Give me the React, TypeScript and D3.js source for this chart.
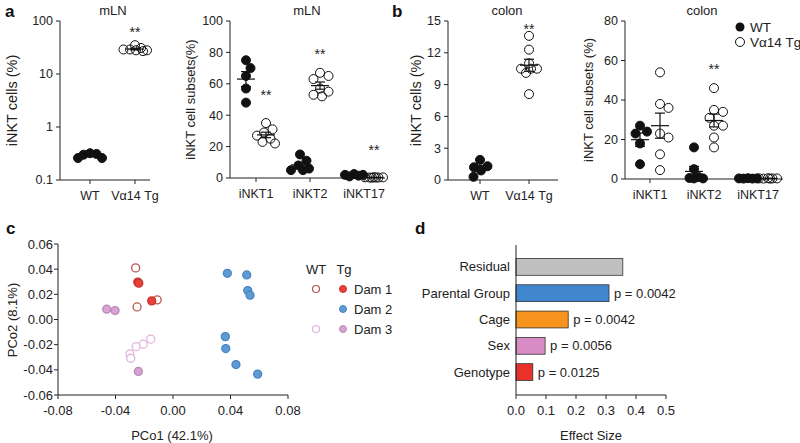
import React from 'react';
import * as d3 from 'd3';

const FONT = '"Liberation Sans", Arial, Helvetica, sans-serif';

// ---------- Panel a / b data ----------
const totalCats = ['WT', 'Vα14 Tg'];
const subsetCats = ['iNKT1', 'iNKT2', 'iNKT17'];

const aTotalWT = [0.26, 0.31, 0.32, 0.3, 0.26];
const aTotalTg = [35, 31, 29, 28, 28, 27, 29];
const aSubWT = [
  [75, 70, 65, 57, 48],
  [15, 11, 8, 6, 5, 5],
  [2.5, 2, 2, 1.5, 1],
];
const aSubTg = [
  [35, 31, 29, 27, 25, 23, 22],
  [67, 65, 63, 57, 55, 53, 52],
  [0.5, 0.4, 0.3, 0.3, 0.2, 0.3, 0.4],
];
const bTotalWT = [1.9, 1.3, 1.2, 0.9, 0.3];
const bTotalTg = [13.6, 12.3, 11.0, 10.5, 10.5, 10.5, 10.1, 8.1];
const bSubWT = [
  [27, 24, 23, 18, 7.5],
  [16, 5, 1, 0.5, 0.3, 0.3],
  [0.3, 0.2, 0.3, 0.2, 0.4],
];
const bSubTg = [
  [54, 38, 36, 23, 21, 12.5, 4.5],
  [46, 35, 34, 31, 27, 27, 21, 16],
  [0.3, 0.2, 0.4, 0.3, 0.2, 0.3],
];
const logTicks = [0.1, 1, 10, 100];
const aSubTicks = [0, 20, 40, 60, 80, 100];
const bTotalTicks = [0, 3, 6, 9, 12, 15];
const bSubTicks = [0, 20, 40, 60, 80];

// star annotations (category index, value)
const aTotalStars = [{ cat: 1, value: 75 }];
const aSubStars = [
  { cat: 0, value: 56 },
  { cat: 1, value: 82 },
  { cat: 2, value: 21 },
];
const bTotalStars = [{ cat: 1, value: 14.7 }];
const bSubStars = [{ cat: 1, value: 58 }];

// ---------- Panel c data ----------
const pcoTicksX = [-0.08, -0.04, 0, 0.04, 0.08];
const pcoTicksY = [-0.06, -0.04, -0.02, 0, 0.02, 0.04, 0.06];
const dam1WT = [[-0.026, 0.041], [-0.025, 0.010], [-0.011, 0.0156]];
const dam1Tg = [[-0.0245, 0.0297], [-0.0238, 0.0289], [-0.0148, 0.0148]];
const dam2Tg = [
  [0.0378, 0.0367], [0.0513, 0.0354], [0.052, 0.023], [0.0536, 0.0193],
  [0.0364, -0.0136], [0.0367, -0.0231], [0.0438, -0.0358], [0.0589, -0.0434],
];
const dam3WT = [[-0.0155, -0.0156], [-0.0207, -0.0196], [-0.0257, -0.0215], [-0.030, -0.0273], [-0.0294, -0.0308]];
const dam3Tg = [[-0.0461, 0.0082], [-0.0403, 0.0071], [-0.0241, -0.0413]];
const damLabels = ['Dam 1', 'Dam 2', 'Dam 3'];

// ---------- Panel d data ----------
const factors = ['Residual', 'Parental Group', 'Cage', 'Sex', 'Genotype'];
const effectSizes = [0.356, 0.31, 0.174, 0.097, 0.056];
const pValues = ['', '0.0042', '0.0042', '0.0056', '0.0125'];
const factorColors = ['#c0c0c0', '#3f86cf', '#f7941d', '#d98bc6', '#e8312b'];
const effectTicks = [0, 0.1, 0.2, 0.3, 0.4, 0.5];

const TICK_FS = 12.5;
const LABEL_FS = 13;

// ---------- helpers ----------
function swarmOffsets(ys: number[], minDist: number, maxSpread: number) {
  const order = ys.map((_, i) => i).sort((a, b) => ys[a] - ys[b]);
  const placed: { x: number; y: number }[] = [];
  const out = new Array(ys.length).fill(0);
  const cands: number[] = [0];
  for (let k = 1; k * 0.5 <= maxSpread; k++) cands.push(k * 0.5, -k * 0.5);
  for (const i of order) {
    const y = ys[i];
    let chosen: number | null = null;
    let bestC = 0;
    let bestD = -Infinity;
    for (const c of cands) {
      const dmin = placed.length ? Math.min(...placed.map((p) => Math.hypot(p.x - c, p.y - y))) : Infinity;
      if (dmin >= minDist) {
        chosen = c;
        break;
      }
      if (dmin > bestD) {
        bestD = dmin;
        bestC = c;
      }
    }
    out[i] = chosen !== null ? chosen : bestC;
    placed.push({ x: out[i], y });
  }
  return out;
}

function DotGroup({ cx, values, y, filled, r = 4.5, minDist = 9.5, maxSpread = 11 }: any) {
  const ys = values.map((v: number) => y(v));
  const off = swarmOffsets(ys, minDist, maxSpread);
  const m = d3.mean(values) as number;
  const sem = (d3.deviation(values) as number) / Math.sqrt(values.length);
  const yl = y(Math.max(m - sem, y.domain()[0]));
  const yh = y(m + sem);
  const ym = y(m);
  return (
    <g>
      {values.map((v: number, i: number) => (
        <circle key={i} cx={cx + off[i]} cy={ys[i]} r={r}
          fill={filled ? '#111' : 'none'} stroke="#111" strokeWidth={1} />
      ))}
      <line x1={cx - 9} x2={cx + 9} y1={ym} y2={ym} stroke="#111" strokeWidth={1.2} />
      <line x1={cx} x2={cx} y1={yl} y2={yh} stroke="#111" strokeWidth={1.2} />
      <line x1={cx - 5} x2={cx + 5} y1={yl} y2={yl} stroke="#111" strokeWidth={1.2} />
      <line x1={cx - 5} x2={cx + 5} y1={yh} y2={yh} stroke="#111" strokeWidth={1.2} />
    </g>
  );
}

function LeftAxis({ x, y, ticks, fmt, y0, y1, fs = TICK_FS, gap = 7 }: any) {
  return (
    <g>
      <line x1={x} x2={x} y1={y0} y2={y1} stroke="#222" strokeWidth={1} />
      {ticks.map((t: number, i: number) => (
        <g key={i}>
          <line x1={x - 4} x2={x} y1={y(t)} y2={y(t)} stroke="#222" />
          <text x={x - gap} y={y(t)} dy="0.35em" textAnchor="end" fontSize={fs} fill="#222">{fmt(t)}</text>
        </g>
      ))}
    </g>
  );
}

function BottomAxis({ y, x0, x1, ticks, labels }: any) {
  return (
    <g>
      <line x1={x0} x2={x1} y1={y} y2={y} stroke="#222" strokeWidth={1} />
      {ticks.map((t: number, i: number) => (
        <g key={i}>
          <line x1={t} x2={t} y1={y} y2={y + 4} stroke="#222" />
          <text x={t} y={y + 20} textAnchor="middle" fontSize={TICK_FS} fill="#222">{labels[i]}</text>
        </g>
      ))}
    </g>
  );
}

function Stars({ x, y }: any) {
  return <text x={x} y={y} dy="0.7em" textAnchor="middle" fontSize={14} fill="#222">**</text>;
}

function TotalPanel({ axisX, axisEnd, catRange, y, ticks, fmt, wt, tg, title, titleX, ylabel, ylabelX, stars, minDist, maxSpread }: any) {
  const xc = d3.scalePoint<string>().domain(totalCats).range(catRange);
  const [yb, yt] = y.range();
  return (
    <g>
      <text x={titleX} y={15} textAnchor="middle" fontSize={LABEL_FS} fill="#222">{title}</text>
      <LeftAxis x={axisX} y={y} ticks={ticks} fmt={fmt} y0={yt} y1={yb} />
      <BottomAxis y={yb} x0={axisX} x1={axisEnd} ticks={totalCats.map((c) => xc(c))} labels={totalCats} />
      <DotGroup cx={xc(totalCats[0])} values={wt} y={y} filled minDist={minDist} maxSpread={maxSpread} />
      <DotGroup cx={xc(totalCats[1])} values={tg} y={y} filled={false} minDist={minDist} maxSpread={maxSpread} />
      {stars.map((s: any, i: number) => (
        <Stars key={i} x={xc(totalCats[s.cat])} y={y(s.value)} />
      ))}
      <text transform={`translate(${ylabelX},${(yb + yt) / 2}) rotate(-90)`} textAnchor="middle"
        fontSize={14.5} fill="#222">{ylabel}</text>
    </g>
  );
}

function SubsetPanel({ axisX, axisEnd, catRange, y, ticks, wt, tg, title, titleX, ylabel, ylabelX, stars }: any) {
  const xc = d3.scalePoint<string>().domain(subsetCats).range(catRange);
  const [yb, yt] = y.range();
  const d = 10;
  return (
    <g>
      <text x={titleX} y={15} textAnchor="middle" fontSize={LABEL_FS} fill="#222">{title}</text>
      <LeftAxis x={axisX} y={y} ticks={ticks} fmt={(t: number) => String(t)} y0={yt} y1={yb} />
      <BottomAxis y={yb} x0={axisX} x1={axisEnd} ticks={subsetCats.map((c) => xc(c))} labels={subsetCats} />
      {subsetCats.map((c, i) => (
        <g key={c}>
          <DotGroup cx={(xc(c) as number) - d} values={wt[i]} y={y} filled minDist={9} maxSpread={9} />
          <DotGroup cx={(xc(c) as number) + d} values={tg[i]} y={y} filled={false} minDist={9} maxSpread={9} />
        </g>
      ))}
      {stars.map((s: any, i: number) => (
        <Stars key={i} x={(xc(subsetCats[s.cat]) as number) + d} y={y(s.value)} />
      ))}
      <text transform={`translate(${ylabelX},${(yb + yt) / 2}) rotate(-90)`} textAnchor="middle" fontSize={LABEL_FS} fill="#222">{ylabel}</text>
    </g>
  );
}

function PanelC() {
  const x = d3.scaleLinear().domain([-0.08, 0.08]).range([58, 288]);
  const y = d3.scaleLinear().domain([-0.06, 0.06]).range([395, 244]);
  const r = 4;
  const sets = [
    { pts: dam3WT, fill: '#fff', stroke: '#e2b4dc' },
    { pts: dam1WT, fill: '#fff', stroke: '#b8564d' },
    { pts: dam3Tg, fill: '#d8a2d2', stroke: '#b98ab5' },
    { pts: dam1Tg, fill: '#ea3f3a', stroke: '#c73430' },
    { pts: dam2Tg, fill: '#5e9bd6', stroke: '#4a84bf' },
  ];
  const legendRows = [
    { wt: '#b8564d', tg: '#ea3f3a', tgs: '#c73430' },
    { wt: null, tg: '#5e9bd6', tgs: '#4a84bf' },
    { wt: '#e2b4dc', tg: '#d8a2d2', tgs: '#b98ab5' },
  ];
  return (
    <g>
      <text x={6} y={234} fontSize={17} fontWeight="bold" fill="#111">c</text>
      <LeftAxis x={58} y={y} ticks={pcoTicksY} fmt={(t: number) => t.toFixed(2)} y0={244} y1={395} fs={13} gap={5} />
      <g>
        <line x1={58} x2={288} y1={395} y2={395} stroke="#222" />
        {pcoTicksX.map((t, i) => (
          <g key={i}>
            <line x1={x(t)} x2={x(t)} y1={395} y2={399} stroke="#222" />
            <text x={x(t)} y={415} textAnchor="middle" fontSize={13} fill="#222">{t.toFixed(2)}</text>
          </g>
        ))}
      </g>
      {sets.map((s, si) => s.pts.map((p, i) => (
        <circle key={`${si}-${i}`} cx={x(p[0])} cy={y(p[1])} r={r} fill={s.fill} stroke={s.stroke} strokeWidth={1.3} />
      )))}
      <text x={172} y={440} textAnchor="middle" fontSize={LABEL_FS} fill="#222">PCo1 (42.1%)</text>
      <text transform="translate(17,320) rotate(-90)" textAnchor="middle" fontSize={LABEL_FS} fill="#222">PCo2 (8.1%)</text>
      <text x={316} y={274} textAnchor="middle" fontSize={LABEL_FS} fill="#222">WT</text>
      <text x={344} y={274} textAnchor="middle" fontSize={LABEL_FS} fill="#222">Tg</text>
      {legendRows.map((row, i) => (
        <g key={i}>
          {row.wt && <circle cx={316} cy={289 + i * 20} r={3.5} fill="#fff" stroke={row.wt} strokeWidth={1.2} />}
          <circle cx={343} cy={289 + i * 20} r={3.5} fill={row.tg} stroke={row.tgs} strokeWidth={1} />
          <text x={354} y={289 + i * 20} dy="0.35em" fontSize={LABEL_FS} fill="#222">{damLabels[i]}</text>
        </g>
      ))}
    </g>
  );
}

function PanelD() {
  const x = d3.scaleLinear().domain([0, 0.5]).range([516, 666]);
  const y = d3.scaleBand<string>().domain(factors).range([249, 390]).padding(0.36);
  return (
    <g>
      <text x={415} y={234} fontSize={17} fontWeight="bold" fill="#111">d</text>
      {factors.map((f, i) => (
        <g key={f}>
          <rect x={x(0)} y={y(f)} width={x(effectSizes[i]) - x(0)} height={y.bandwidth()}
            fill={factorColors[i]} stroke="#333" strokeWidth={0.8} />
          <text x={510} y={(y(f) as number) + y.bandwidth() / 2} dy="0.35em" textAnchor="end" fontSize={LABEL_FS} fill="#222">{f}</text>
          {pValues[i] && (
            <text x={x(effectSizes[i]) + 5} y={(y(f) as number) + y.bandwidth() / 2} dy="0.35em" fontSize={LABEL_FS} fill="#222">{`p = ${pValues[i]}`}</text>
          )}
        </g>
      ))}
      <line x1={516} x2={516} y1={245} y2={395} stroke="#222" />
      <line x1={516} x2={666} y1={395} y2={395} stroke="#222" />
      {effectTicks.map((t, i) => (
        <g key={i}>
          <line x1={x(t)} x2={x(t)} y1={395} y2={399} stroke="#222" />
          <text x={x(t)} y={415} textAnchor="middle" fontSize={13} fill="#222">{t.toFixed(1)}</text>
        </g>
      ))}
      <text x={591} y={440} textAnchor="middle" fontSize={LABEL_FS} fill="#222">Effect Size</text>
    </g>
  );
}

export default function App() {
  const yALog = d3.scaleLog().domain([0.1, 100]).range([180, 21]);
  const yASub = d3.scaleLinear().domain([0, 100]).range([178, 21]);
  const yBTot = d3.scaleLinear().domain([0, 15]).range([180, 21]);
  const yBSub = d3.scaleLinear().domain([0, 80]).range([179, 21]);
  return (
    <svg width={800} height={443} style={{ position: 'absolute', left: 0, top: 0, background: '#fff' }} fontFamily={FONT}>
      <rect width={800} height={443} fill="#fff" />
      <text x={5} y={17} fontSize={17} fontWeight="bold" fill="#111">a</text>
      <text x={392} y={17} fontSize={17} fontWeight="bold" fill="#111">b</text>
      <TotalPanel axisX={60} axisEnd={150} catRange={[90, 135]} y={yALog} ticks={logTicks}
        fmt={(t: number) => String(t)} wt={aTotalWT} tg={aTotalTg} title="mLN" titleX={113}
        ylabel="iNKT cells (%)" ylabelX={17} stars={aTotalStars} minDist={6.5} maxSpread={12} />
      <SubsetPanel axisX={230} axisEnd={385} catRange={[256, 364]} y={yASub} ticks={aSubTicks}
        wt={aSubWT} tg={aSubTg} title="mLN" titleX={307} ylabel="iNKT cell subsets(%)" ylabelX={195} stars={aSubStars} />
      <TotalPanel axisX={448} axisEnd={558} catRange={[480, 529]} y={yBTot} ticks={bTotalTicks}
        fmt={(t: number) => String(t)} wt={bTotalWT} tg={bTotalTg} title="colon" titleX={507}
        ylabel="iNKT cells (%)" ylabelX={421} stars={bTotalStars} minDist={9.5} maxSpread={13} />
      <SubsetPanel axisX={625} axisEnd={783} catRange={[650, 758]} y={yBSub} ticks={bSubTicks}
        wt={bSubWT} tg={bSubTg} title="colon" titleX={702} ylabel="iNKT cell subsets (%)" ylabelX={593} stars={bSubStars} />
      <g>
        <circle cx={740} cy={27} r={4.5} fill="#111" />
        <text x={750} y={27} dy="0.35em" fontSize={13.5} fill="#222">WT</text>
        <circle cx={740} cy={42} r={4.5} fill="#fff" stroke="#111" />
        <text x={750} y={42} dy="0.35em" fontSize={13.5} fill="#222">Vα14 Tg</text>
      </g>
      <PanelC />
      <PanelD />
    </svg>
  );
}
